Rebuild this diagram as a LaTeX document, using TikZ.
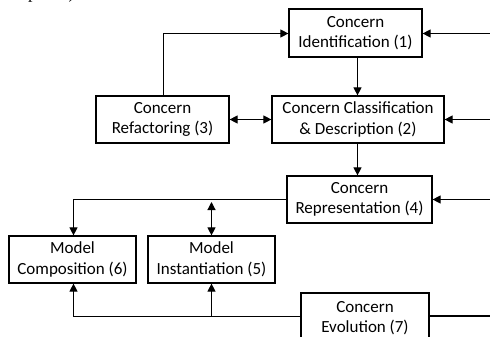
\documentclass[tikz,border=0pt]{standalone}
\usepackage{fontspec}
\setmainfont{Carlito}
\newfontfamily\serifcut{Liberation Serif}
\usetikzlibrary{arrows.meta}
\begin{document}
\begin{tikzpicture}[x=1pt,y=-1pt,
  box/.style={draw,line width=1.2pt,align=center,inner sep=0pt,
    font=\fontsize{17}{20.5}\selectfont},
  link/.style={line width=1.1pt,-{Triangle[length=8pt,width=8pt]}},
  both/.style={line width=1.1pt,{Triangle[length=8pt,width=8pt]}-{Triangle[length=8pt,width=8pt]}}]
\useasboundingbox (0,0) rectangle (490,337);
\clip (0,0) rectangle (490,337);

% cut-off text from the line above the figure
\node[anchor=base west,inner sep=0pt,font=\serifcut\fontsize{18}{20}\selectfont] (cut) at (28,-1) {p.\hspace{27pt})};

% process steps
\node[box,minimum width=133pt,minimum height=48pt] (ident) at (355.5,33) {Concern\\Identification (1)};
\node[box,minimum width=172pt,minimum height=47pt] (class) at (358,119.5) {Concern Classification\\\& Description (2)};
\node[box,minimum width=133pt,minimum height=47pt] (refac) at (162.5,119.5) {Concern\\Refactoring (3)};
\node[box,minimum width=145pt,minimum height=47pt] (repr) at (359.5,199.5) {Concern\\Representation (4)};
\node[box,minimum width=127pt,minimum height=47pt] (compo) at (72.5,259.5) {Model\\Composition (6)};
\node[box,minimum width=127pt,minimum height=47pt] (inst) at (211.5,259.5) {Model\\Instantiation (5)};
\node[box,minimum width=128pt,minimum height=50pt] (evol) at (365,318) {Concern\\Evolution (7)};

% loose ends entering from the right margin
\coordinate (inA) at (492,33.5);
\coordinate (inB) at (492,119.5);
\coordinate (inC) at (492,199.5);
\coordinate (outD) at (492,316);
\coordinate (refup) at (163.5,33.5);
\coordinate (split) at (73.5,199.5);
\coordinate (tapTop) at (211.5,202);
\coordinate (low) at (73.5,316.5);
\coordinate (lowInst) at (211.5,316.5);

% connectors
\draw[link] (refac.north -| refup) -- (refup) -- (ident.west |- refup);
\draw[link] (inA) -- (ident.east |- inA);
\draw[link] (ident.south -| 357.5,0) -- (class.north -| 357.5,0);
\draw[both] (refac.east) -- (class.west);
\draw[link] (inB) -- (class.east);
\draw[link] (class.south -| 357.5,0) -- (repr.north -| 357.5,0);
\draw[link] (inC) -- (repr.east);
\draw[link] (repr.west) -- (split) -- (compo.north -| split);
\draw[both] (tapTop) -- (inst.north);
\draw[link] (evol.west |- low) -- (low) -- (compo.south -| low);
\draw[link] (lowInst) -- (inst.south);
\draw[line width=2.2pt] (evol.east |- outD) -- (outD);
\end{tikzpicture}
\end{document}
